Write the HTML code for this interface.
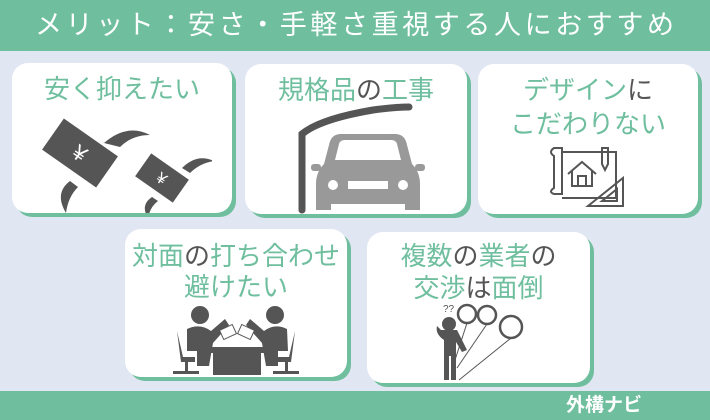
<!DOCTYPE html>
<html><head><meta charset="utf-8"><style>
*{margin:0;padding:0;box-sizing:border-box}
body{width:710px;height:420px;background:#e1e6f3;position:relative;overflow:hidden;font-family:"Liberation Sans","Noto Sans CJK JP",sans-serif}
.hdr{position:absolute;left:0;top:0;width:710px;height:51px;background:#6fbf9f;color:#fff;font-size:27px;letter-spacing:3.6px;line-height:51px;padding-left:35px;white-space:nowrap}
.ftr{position:absolute;left:0;top:391px;width:710px;height:29px;background:#6fbf9f;color:#fff;font-size:19px;font-weight:bold;line-height:29px;padding-left:566px}
.card{position:absolute;background:#fff;border-radius:16px;box-shadow:4px 4px 0 #6fbf9f}
.t{position:absolute;left:0;width:100%;text-align:center;color:#6fbf9f;font-size:26px;line-height:33px;white-space:nowrap}
.d{color:#555}
svg{position:absolute}
</style></head><body>
<div class="hdr">メリット：安さ・手軽さ重視する人におすすめ</div>

<div class="card" style="left:12px;top:63px;width:220px;height:150px">
<div class="t" style="top:10px">安く抑えたい</div>
<svg style="left:30px;top:50px" width="170" height="100" viewBox="0 0 170 100">
<g transform="translate(38,40) rotate(35)"><rect x="-34" y="-20" width="68" height="40" fill="#555" stroke="#fff" stroke-width="2"/><text x="0" y="8" font-size="22" fill="#fff" text-anchor="middle" font-family="Liberation Sans">¥</text></g>
<path d="M62 30 Q85 10 108 22 Q90 22 78 34 Z" fill="#555"/>
<path d="M28 68 Q12 80 24 100 Q26 84 36 74 Z" fill="#555"/>
<g transform="translate(120,65) rotate(35)"><rect x="-24" y="-15" width="48" height="30" fill="#555" stroke="#fff" stroke-width="2"/><text x="0" y="6" font-size="16" fill="#fff" text-anchor="middle" font-family="Liberation Sans">¥</text></g>
<path d="M140 55 Q155 40 172 48 Q158 50 148 60 Z" fill="#555"/>
<path d="M110 84 Q98 92 106 105 Q108 94 116 88 Z" fill="#555"/>
</svg>
</div>

<div class="card" style="left:245px;top:64px;width:222px;height:150px">
<div class="t" style="top:10px">規格品<span class="d">の</span>工事</div>
<svg style="left:0;top:0" width="222" height="150">
<path d="M57 146 V70 Q75 55 128 46 Q150 43 164 43" fill="none" stroke="#555" stroke-width="7" stroke-linecap="round"/>
<g transform="translate(0,8)">
<g fill="#999">
<path d="M84 73 Q86 62 96 62 H150 Q160 62 162 73 L167 92 Q175 100 175 112 V138 H160 V132 H86 V138 H71 V112 Q71 100 79 92 Z"/>
<rect x="66" y="92" width="10" height="7" rx="3"/><rect x="170" y="92" width="10" height="7" rx="3"/>
</g>
<path d="M94 72 Q95 68 100 68 H146 Q151 68 152 72 L156 88 H90 Z" fill="#fff"/>
<circle cx="88" cy="113" r="5" fill="#fff"/><circle cx="158" cy="113" r="5" fill="#fff"/>
<rect x="103" y="109" width="40" height="8" fill="#fff"/>
</g>
</svg>
</div>

<div class="card" style="left:478px;top:64px;width:220px;height:150px">
<div class="t" style="top:10px">デザイン<span class="d">に</span></div>
<div class="t" style="top:44px">こだわりない</div>
<svg style="left:0;top:0" width="220" height="150" fill="none" stroke="#555" stroke-width="2">
<path d="M76 92 Q70 88 76 84 H84 V130 H76 Q70 128 76 124 Z"/>
<path d="M84 88 H138 V134 H84"/>
<path d="M90 110 L104 98 L118 110 M94 107 V122 H114 V107 M100 122 V112 H108 V122"/>
<path d="M124 84 V100 L127 106 L130 100 V84 Z"/>
<path d="M110 142 L145 114 V142 Z M124 137 L139 125 V137 Z"/>
</svg>
</div>

<div class="card" style="left:125px;top:229px;width:222px;height:148px">
<div class="t" style="top:11px">対面<span class="d">の</span>打ち合わせ</div>
<div class="t" style="top:42px">避けたい</div>
<svg style="left:0;top:0" width="222" height="148">
<g fill="#555">
<circle cx="75" cy="86" r="9"/><circle cx="150" cy="86" r="9"/>
<path d="M62 100 Q75 94 86 102 L100 90 L104 96 L88 114 L84 137 H72 V122 H62 Z"/>
<path d="M162 100 Q150 94 139 102 L125 90 L121 96 L137 114 L141 137 H153 V122 H163 Z"/>
<rect x="78" y="118" width="68" height="6"/><rect x="88" y="124" width="48" height="22"/>
<path d="M52 102 L58 128 H70 V133 H56 Z M170 102 L164 128 H152 V133 H166 Z"/>
<rect x="60" y="133" width="3" height="10"/><rect x="160" y="133" width="3" height="10"/>
<rect x="48" y="142" width="26" height="3"/><rect x="148" y="142" width="26" height="3"/>
</g>
<rect x="96" y="98" width="14" height="10" fill="#fff" stroke="#555" transform="rotate(-25 103 103)"/>
<rect x="114" y="98" width="14" height="10" fill="#fff" stroke="#555" transform="rotate(25 121 103)"/>
</svg>
</div>

<div class="card" style="left:367px;top:232px;width:223px;height:151px">
<div class="t" style="top:8px">複数<span class="d">の</span>業者<span class="d">の</span></div>
<div class="t" style="top:40px">交渉<span class="d">は</span>面倒</div>
<svg style="left:0;top:0" width="223" height="151">
<text x="76" y="80" font-size="10" fill="#555" font-family="Liberation Sans">??</text>
<g fill="#555">
<circle cx="82" cy="92" r="7"/>
<path d="M74 98 H90 L100 118 L95 120 L89 110 V148 H84 V124 H82 V148 H77 V108 Q68 102 70 94 Z"/>
</g>
<g fill="#fff" stroke="#555" stroke-width="2.5">
<circle cx="100" cy="82" r="9"/><circle cx="120" cy="83" r="9"/><circle cx="144" cy="95" r="11"/>
</g>
<g stroke="#555" stroke-width="1"><path d="M100 91 L88 128 M120 92 L90 136 M144 106 L92 148"/></g>
</svg>
</div>

<div class="ftr">外構ナビ</div>
</body></html>
